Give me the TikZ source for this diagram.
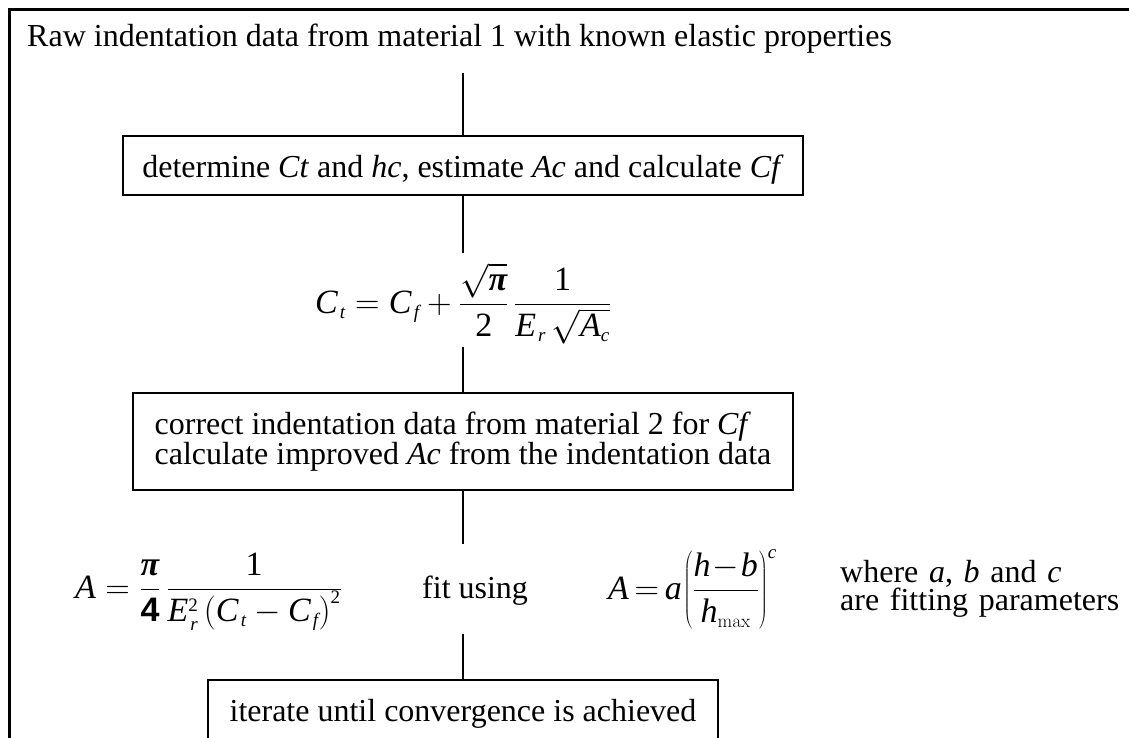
\RequirePackage{fix-cm}
\documentclass[tikz,border=0pt]{standalone}
\usepackage{mathspec}
\setmainfont{Liberation Serif}
\setmathsfont(Digits,Latin,Greek){Liberation Serif}
\newfontfamily\sansb{Liberation Sans}
\DeclareMathSizes{34}{34}{19}{15}
\DeclareMathSizes{32}{32}{18}{14}
\newcommand{\bpi}{\mbox{\bfseries\itshape π}}
\begin{document}
\begin{tikzpicture}[x=1pt,y=-1pt,
  every node/.style={font=\fontsize{32}{29}\selectfont},
  eqfont/.style={font=\fontsize{34}{36}\selectfont},
  stepbox/.style={draw, line width=1.7pt},
  link/.style={line width=2.3pt}]
\clip (0,0) rectangle (1129,737);
% outer frame (right and bottom sides outside the picture)
\draw[line width=2.7pt] (9.5,760) -- (9.5,9.5) -- (1150,9.5);

\node[anchor=base west, inner sep=0] (title) at (27,46)
  {Raw indentation data from material 1 with known elastic properties};
\coordinate (t1) at (463,73);

\node[stepbox, minimum width=680pt, minimum height=59pt, text height=24pt, text depth=1pt] (box1) at (463,165.5)
  {determine \textit{Ct} and \textit{hc}, estimate \textit{Ac} and calculate \textit{Cf}};

\coordinate (f1top) at (463,253);
\node[eqfont, anchor=base, inner sep=0] (eq1) at (463,313)
  {$\displaystyle C_{\mkern2mu t} = C_{\mkern2mu f} + \frac{\sqrt{\bpi}}{2\rule[-6pt]{0pt}{6pt}}\,\frac{1}{E_{\mkern2mu r}\,\sqrt{A_c\vphantom{A}}}$};
\coordinate (f1bot) at (463,347);

\node[stepbox, minimum width=660pt, minimum height=97pt, align=left] (box2) at (463,441.5)
  {correct indentation data from material 2 for \textit{Cf}\\calculate improved \textit{Ac} from the indentation data};

\coordinate (f2top) at (463,544);
\node[eqfont, anchor=base west, inner sep=0] (eq2) at (75,598)
  {$\displaystyle A=\frac{\bpi}{\mbox{\sansb\bfseries 4}}\,\frac{1}{E_{\mkern2mu r}^{2}\left(C_{\mkern2mu t} - C_{\mkern2mu f}\right)^{2}}$};
\node[anchor=base west, inner sep=0] (fit) at (422,598) {fit using};
\node[eqfont, anchor=base west, inner sep=0] (eq3) at (608,599)
  {$\displaystyle A\mkern-2mu=\mkern-2mu a\mkern-2mu\left(\frac{h\mkern-3mu-\mkern-3mu b}{h_{\mathrm{max}}\rule[-8pt]{0pt}{8pt}}\right)^{c}$};
\node[anchor=base west, inner sep=0, align=left, text width=300pt,
  font=\fontsize{32}{27}\selectfont] (where) at (840,582)
  {where \textit{a}, \textit{b} and \textit{c}\\are fitting parameters};
\coordinate (f2bot) at (463,634);

\node[stepbox, minimum width=510pt, minimum height=59pt, text height=24pt, text depth=1pt] (box3) at (463,709.5)
  {iterate until convergence is achieved};

\draw[link] (t1) -- (box1.north);
\draw[link] (box1.south) -- (f1top);
\draw[link] (f1bot) -- (box2.north);
\draw[link] (box2.south) -- (f2top);
\draw[link] (f2bot) -- (box3.north);
\end{tikzpicture}
\end{document}
